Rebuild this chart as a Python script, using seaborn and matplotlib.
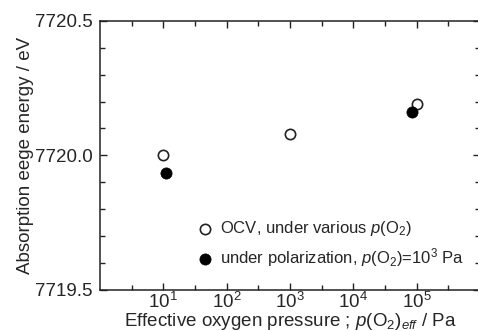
import matplotlib
matplotlib.use("Agg")
import matplotlib.pyplot as plt
import matplotlib.ticker as mticker
import seaborn as sns
import pandas as pd
import numpy as np

# OCV, various p(O2)
ocv_p = [10, 1e3, 1e5]
ocv_e = [7720.00, 7720.08, 7720.19]
# under polarization, p(O2)=10^3 Pa
pol_p = [11, 8.6e4]
pol_e = [7719.935, 7720.163]

ocv = pd.DataFrame({"p": ocv_p, "E": ocv_e})
pol = pd.DataFrame({"p": pol_p, "E": pol_e})

sns.set_style("ticks")
plt.rcParams["font.family"] = ["Liberation Sans", "DejaVu Sans"]
plt.rcParams["mathtext.fontset"] = "custom"
plt.rcParams["mathtext.rm"] = "Liberation Sans"
plt.rcParams["mathtext.it"] = "Liberation Sans:italic"

fig = plt.figure(figsize=(4.78, 3.31), dpi=100)
ax = fig.add_axes([0.209, 0.124, 0.795, 0.813])

sns.scatterplot(data=ocv, x="p", y="E", ax=ax, marker="o", s=55,
                facecolor="white", edgecolor="#222222", linewidth=1.2,
                label=r"OCV, under various $p$(O$_2$)")
sns.scatterplot(data=pol, x="p", y="E", ax=ax, marker="o", s=65,
                color="black", edgecolor="black", linewidth=0.5,
                label=r"under polarization, $p$(O$_2$)=10$^3$ Pa")

ax.set_xscale("log")
ax.set_xlim(1, 1e6)
ax.set_ylim(7719.5, 7720.5)
ax.xaxis.set_major_locator(mticker.FixedLocator([1e1, 1e2, 1e3, 1e4, 1e5]))
ax.xaxis.set_major_formatter(mticker.LogFormatterMathtext())
ax.xaxis.set_minor_locator(mticker.FixedLocator(10 ** (np.arange(0, 6) + 0.5)))
ax.xaxis.set_minor_formatter(mticker.NullFormatter())
ax.yaxis.set_major_locator(mticker.MultipleLocator(0.5))
ax.yaxis.set_minor_locator(mticker.MultipleLocator(0.1))
ax.yaxis.set_major_formatter(mticker.FormatStrFormatter("%.1f"))

ax.tick_params(which="both", direction="in", top=True, right=True,
               labelsize=13.5, width=1.0, color="#222222")
ax.tick_params(which="major", length=5)
ax.tick_params(which="minor", length=3.5)
ax.tick_params(axis="x", which="major", pad=1.5)
ax.tick_params(axis="y", which="major", pad=5)
for sp in ax.spines.values():
    sp.set_linewidth(1.1)
    sp.set_color("#222222")

ax.set_xlabel(r"Effective oxygen pressure ; $p$(O$_2$)$_{eff}$ / Pa",
              fontsize=13.5, labelpad=-1)
ax.set_ylabel("Absorption eege energy / eV", fontsize=13.5, labelpad=1)

ax.legend(loc="lower left", bbox_to_anchor=(0.22, 0.035), frameon=False,
          fontsize=12, handletextpad=0.3, borderaxespad=0.3,
          labelspacing=0.45, handlelength=1.2)

fig.savefig("out.png", dpi=100)
